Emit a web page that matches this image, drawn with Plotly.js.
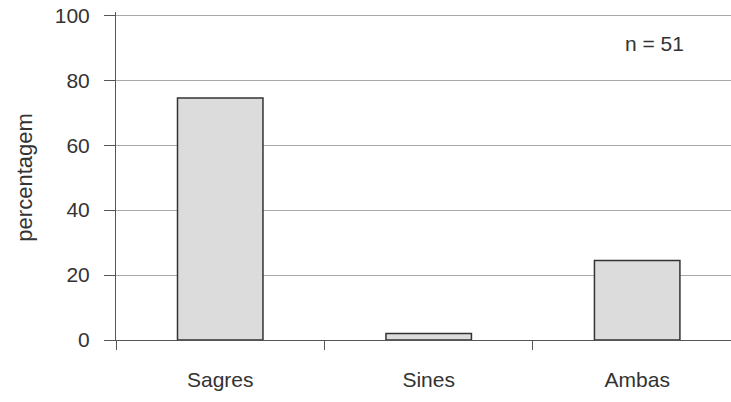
<!DOCTYPE html>
<html>
<head>
<meta charset="utf-8">
<script src="https://cdn.plot.ly/plotly-3.0.1.min.js"></script>
<style>html,body{margin:0;padding:0;background:#fff;}#chart{width:731px;height:402px;}</style>
</head>
<body>
<div id="chart"></div>
<script>
const categories = ["Sagres", "Sines", "Ambas"];
const values = [74.5, 2, 24.5];
const yTicks = [0, 20, 40, 60, 80, 100];
const note = "n = 51";
const yTitle = "percentagem";

const fam = "Liberation Sans, Arial, sans-serif";
const txt = "#333333";

Plotly.newPlot("chart", [{
  type: "bar",
  x: categories,
  y: values,
  marker: {color: "#dcdcdc", line: {color: "#333333", width: 1.5}},
  hoverinfo: "none"
}], {
  width: 731, height: 402,
  margin: {l: 116, r: 0, t: 12, b: 62},
  paper_bgcolor: "#ffffff", plot_bgcolor: "#ffffff",
  font: {family: fam, size: 21, color: txt},
  bargap: 0.59,
  showlegend: false,
  xaxis: {
    range: [-0.5, 2.45],
    tickson: "boundaries",
    ticks: "outside", ticklen: 9, tickcolor: "#555", tickwidth: 1,
    showline: true, linecolor: "#555", linewidth: 1,
    showgrid: false, zeroline: false,
    tickfont: {family: fam, size: 21, color: txt},
    ticklabelstandoff: 21,
    fixedrange: true
  },
  yaxis: {
    range: [0, 101],
    tickvals: yTicks,
    ticks: "outside", ticklen: 11, tickcolor: "#555", tickwidth: 1,
    showline: true, linecolor: "#555", linewidth: 1,
    showgrid: true, gridcolor: "#a8a8a8", gridwidth: 1,
    zeroline: false,
    tickfont: {family: fam, size: 21, color: txt},
    ticklabelstandoff: 10,
    fixedrange: true
  },
  annotations: [{
    text: yTitle, textangle: -90, xref: "paper", yref: "paper",
    x: 0, y: 0.495, xanchor: "center", yanchor: "middle", xshift: -91,
    showarrow: false, font: {family: fam, size: 22, color: txt}
  }, {
    text: note, xref: "paper", yref: "paper",
    x: 0.875, y: 0.905, xanchor: "center", yanchor: "middle",
    showarrow: false, font: {family: fam, size: 21, color: txt}
  }]
}, {displayModeBar: false, staticPlot: true});
</script>
</body>
</html>
